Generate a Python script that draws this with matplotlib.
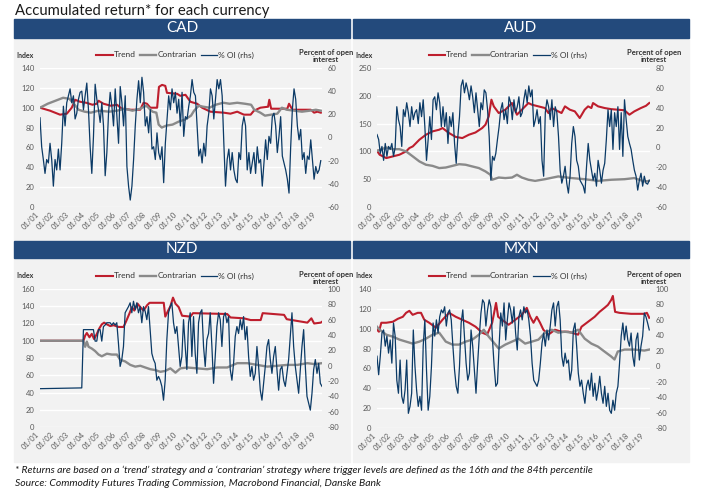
import numpy as np
import matplotlib
matplotlib.use("Agg")
import matplotlib.pyplot as plt
from matplotlib.patches import Rectangle

plt.rcParams['font.family'] = ['Lato', 'DejaVu Sans']
plt.rcParams['axes.unicode_minus'] = False

W, H = 703, 501

# ---------------- datos ----------------
tick_years = list(range(2001, 2020))
tick_labels = ["01/01", "01/02", "01/03", "01/04", "01/05", "01/06", "01/07",
               "01/08", "01/09", "01/10", "01/11", "01/12", "01/13", "01/14",
               "01/15", "01/16", "01/17", "01/18", "01/19"]

# CAD
cad_trend = [(2001.0, 100), (2001.65, 97), (2002.3, 93), (2002.74, 94), (2003.06, 100),
             (2003.28, 108), (2003.6, 106), (2004.0, 105), (2004.4, 103), (2004.69, 104),
             (2004.8, 107), (2005.12, 104), (2005.6, 102), (2006.0, 103), (2006.3, 99),
             (2006.9, 98), (2007.5, 98), (2007.72, 105), (2007.94, 104), (2008.16, 100),
             (2008.6, 100), (2008.72, 121), (2008.92, 123), (2009.13, 122), (2009.24, 115),
             (2009.9, 114), (2010.1, 112), (2010.44, 113), (2010.76, 106), (2011.2, 104),
             (2011.52, 100), (2012.06, 96), (2012.93, 95), (2013.36, 94), (2013.8, 96),
             (2014.23, 93), (2014.67, 93), (2014.88, 97), (2015.3, 100), (2015.8, 101),
             (2015.88, 108), (2016.0, 99), (2017.05, 99), (2017.16, 104), (2017.38, 98),
             (2018.57, 98), (2018.79, 95), (2019.0, 96), (2019.22, 95)]
cad_contr = [(2001.0, 100), (2001.5, 104), (2002.0, 107), (2002.5, 110), (2002.9, 109),
             (2003.2, 104), (2003.5, 98), (2003.9, 96), (2004.3, 95), (2004.8, 97),
             (2005.5, 96), (2006.0, 97), (2006.5, 99), (2007.0, 97), (2007.5, 99),
             (2007.9, 102), (2008.3, 96), (2008.55, 95), (2008.7, 83), (2008.9, 80),
             (2009.2, 82), (2009.6, 83), (2010.0, 86), (2010.4, 88), (2010.8, 92),
             (2011.0, 97), (2011.3, 102), (2011.6, 101), (2012.0, 100), (2012.4, 103),
             (2012.9, 105), (2013.3, 104), (2013.8, 105), (2014.3, 104), (2014.7, 103),
             (2014.9, 98), (2015.3, 95), (2015.6, 92), (2016.0, 93), (2016.4, 94),
             (2016.7, 100), (2017.0, 98), (2017.5, 97), (2018.0, 96), (2018.5, 97),
             (2018.9, 98), (2019.22, 97)]
cad_oi_start, cad_oi_end = 2001.0, 2019.22
cad_oi = [17, -8, -19, -31, -19, -22, -5, -19, -42, -19, -28, -10, -28, -5, 27,
          10, 30, 36, 42, 30, 36, 16, 21, 33, 39, 40, 24, 36, 47, 24, -8, -31, 1, 46, 33,
          24, 13, 30, 10, -33, -13, 21, 39, 27, 10, 42, 18, -5, 44, 30, 10, 36, -25, -42, -54,
          -42, -19, 10, 33, 49, 30, 52, 39, 10, 18, 4, 24, -10, -8, -19, 4, -13, -19, -8, -39,
          -5, 16, 36, 24, 42, 30, 39, 21, 33, 10, 39, 1, 18, 16, 27, 36, 50, 39, 36, 10,
          -16, -10, -22, -5, -16, 10, 21, 42, 36, 16, 33, 50, 42, 50, 36, -5, -42, -19, -10, -28,
          -13, -28, -36, -39, -13, -19, 10, 18, 10, -28, -13, -31, -22, -13, -31, -8, -22, -19, -42, -22,
          -2, -19, 1, -5, 18, 21, 10, -13, 1, 18, -16, -22, -28, -36, -48, -8, 24, 42, 33, 10,
          -2, 7, -19, -13, -31, -16, -19, -2, -19, -36, -25, -31, -28, -20]

# AUD
aud_trend = [(2001.0, 101), (2001.18, 94), (2001.62, 88), (2002.06, 91), (2002.5, 94),
             (2002.95, 100), (2003.17, 106), (2003.4, 109), (2003.84, 121), (2004.28, 130),
             (2004.72, 136), (2005.17, 139), (2005.39, 142), (2005.83, 133), (2006.28, 126),
             (2006.72, 124), (2007.16, 130), (2007.6, 134), (2008.05, 142), (2008.27, 148),
             (2008.49, 163), (2008.67, 193), (2008.83, 181), (2009.16, 169), (2009.6, 175),
             (2010.05, 187), (2010.38, 166), (2010.71, 175), (2011.15, 187), (2011.38, 184),
             (2011.82, 181), (2012.26, 178), (2012.49, 169), (2012.71, 178), (2013.15, 172),
             (2013.37, 169), (2013.6, 181), (2013.93, 175), (2014.26, 172), (2014.59, 160),
             (2014.92, 175), (2015.15, 181), (2015.37, 178), (2015.48, 187), (2015.82, 181),
             (2016.26, 178), (2016.7, 176), (2017.14, 175), (2017.59, 174), (2017.92, 166),
             (2018.25, 172), (2018.69, 178), (2019.03, 182), (2019.25, 187)]
aud_contr = [(2001.0, 101), (2001.62, 107), (2002.06, 104), (2002.5, 104), (2002.95, 100),
             (2003.4, 91), (2003.84, 82), (2004.28, 76), (2004.72, 74), (2005.17, 70),
             (2005.61, 71), (2006.06, 74), (2006.5, 77), (2006.94, 76), (2007.38, 73),
             (2007.83, 70), (2008.27, 64), (2008.6, 58), (2008.72, 49), (2009.16, 53),
             (2009.6, 52), (2010.05, 53), (2010.38, 58), (2010.71, 53), (2011.15, 49),
             (2011.6, 47), (2012.26, 50), (2013.15, 55), (2014.04, 52), (2014.92, 50),
             (2015.81, 47), (2016.7, 49), (2017.59, 50), (2018.25, 52), (2018.92, 46),
             (2019.25, 47)]
aud_oi_start, aud_oi_end = 2001.0, 2019.25
aud_oi = [13, 8, -6, 1, -13, 4, -9, 1, -2, 4, -9, 0, 41, 28, 21, 1, 38, 31, 45, 35,
          21, 41, 28, 35, 38, 24, 45, 31, 48, 21, -13, 8, 31, 8, 48, 51, 38, 55, 45, 21,
          41, 21, 35, 4, 31, 21, 35, 4, -16, 11, 31, 62, 68, 55, 65, 58, 48, 62, 51, 35,
          55, 38, 21, 45, 38, 58, 55, 38, 11, -33, -9, -13, -6, 8, 21, 38, 45, 28, 38, 24,
          51, 45, 28, 48, 35, 41, 51, 31, 35, 48, 58, 45, 62, 51, 58, 21, 28, 38, 24, 31,
          -13, -29, 35, 48, 41, 28, 48, 21, 41, 35, 11, -23, -36, -29, -19, -36, -46, -29, 4, 21,
          11, -13, -19, -33, -36, -39, -46, -19, 4, -13, -23, -33, -26, -39, -13, -23, -36, -23, -16, 8,
          38, 21, 38, -2, 35, 21, 41, -2, 35, -9, 48, 28, 11, 4, -2, -13, -23, -29, -43, -33,
          -26, -39, -29, -36, -37, -33]

# NZD
nzd_trend = [(2001.0, 100), (2003.82, 100), (2003.93, 106), (2004.04, 109), (2004.21, 104),
             (2004.36, 108), (2004.51, 102), (2004.69, 108), (2004.84, 114), (2005.01, 119),
             (2005.16, 121), (2005.34, 119), (2005.56, 117), (2005.77, 118), (2006.1, 116),
             (2006.42, 116), (2006.6, 123), (2006.79, 131), (2006.97, 139), (2007.12, 135),
             (2007.33, 143), (2007.51, 139), (2007.72, 135), (2007.94, 141), (2008.11, 144),
             (2009.03, 144), (2009.13, 128), (2009.29, 134), (2009.46, 140), (2009.63, 150),
             (2009.79, 143), (2010.0, 139), (2010.22, 129), (2010.76, 128), (2010.93, 132),
             (2013.15, 131), (2013.36, 127), (2014.23, 126), (2014.67, 124), (2015.32, 124),
             (2015.45, 132), (2016.84, 130), (2017.01, 125), (2018.35, 121), (2018.61, 126),
             (2018.79, 120), (2019.22, 121), (2019.3, 122)]
nzd_contr = [(2001.0, 100), (2003.82, 100), (2003.93, 93), (2004.04, 99), (2004.15, 93),
             (2004.36, 91), (2004.58, 88), (2004.8, 84), (2005.01, 82), (2005.34, 85),
             (2005.66, 84), (2005.99, 84), (2006.2, 78), (2006.53, 76), (2006.86, 72),
             (2007.18, 70), (2007.51, 71), (2007.83, 69), (2008.16, 67), (2008.48, 66),
             (2008.81, 64), (2009.13, 65), (2009.46, 68), (2009.79, 63), (2010.11, 68),
             (2010.55, 69), (2011.2, 68), (2011.85, 67), (2012.5, 69), (2013.15, 69),
             (2013.8, 74), (2014.45, 74), (2015.1, 72), (2015.75, 70), (2016.4, 71),
             (2017.05, 72), (2017.7, 72), (2018.35, 74), (2018.79, 73), (2019.3, 74)]
nzd_oi_first = (2001.0, -30)          # tramo plano antes de 2004
nzd_oi_start, nzd_oi_end = 2003.71, 2019.3
nzd_oi = [-29, 47, 47, 47, 47, 47, 47, 47, 32, 32, 47, 47, 32, 51, 53, 56, 56, 56, 53, 56,
          53, 56, 29, -1, 8, 25, 69, 73, 77, 82, 69, 84, 73, 82, 69, 77, 56, 77, 71, 60,
          77, 47, 16, 8, 3, -19, -14, -19, -27, -45, -19, 34, 69, 77, 82, 56, 42, 51, 25, -1,
          12, 60, 25, -5, 56, 69, 12, 64, 16, -10, 56, 69, 73, 25, -1, 34, 42, 69, 25, -23,
          12, 51, 69, 60, 25, 64, 69, 56, 64, -5, -19, 3, 38, 51, 42, 60, 47, 64, 34, 51,
          12, -14, -1, -19, -10, 25, -1, -32, -45, -23, -1, 25, 34, 8, -10, 12, 25, -5, -32, -5,
          -1, -19, -27, -10, 8, 38, 69, 25, -1, -19, -36, -5, 25, 47, -1, -40, -49, -58, -36, -5,
          8, -10, 3, -23, -27]

# MXN
mxn_trend = [(2001.0, 99), (2001.13, 97), (2001.29, 106), (2001.62, 106), (2002.06, 107),
             (2002.4, 110), (2002.73, 112), (2002.95, 116), (2003.17, 118), (2003.39, 114),
             (2003.73, 116), (2003.95, 116), (2004.17, 109), (2004.5, 106), (2004.95, 101),
             (2005.39, 109), (2005.83, 116), (2006.28, 112), (2006.72, 109), (2007.16, 106),
             (2007.61, 102), (2008.05, 96), (2008.38, 94), (2008.72, 106), (2008.98, 126),
             (2009.12, 112), (2009.38, 109), (2009.82, 104), (2010.27, 109), (2010.71, 114),
             (2011.04, 121), (2011.27, 112), (2011.49, 106), (2011.71, 112), (2011.93, 106),
             (2012.15, 99), (2012.49, 94), (2012.93, 99), (2013.37, 97), (2013.82, 97),
             (2014.48, 94), (2014.71, 102), (2015.15, 107), (2015.59, 112), (2015.92, 117),
             (2016.25, 121), (2016.48, 124), (2016.7, 129), (2016.81, 133), (2016.96, 117),
             (2017.25, 116), (2018.03, 115), (2018.92, 115), (2019.09, 116), (2019.25, 111)]
mxn_contr = [(2001.0, 102), (2001.18, 99), (2001.62, 94), (2002.06, 92), (2002.51, 89),
             (2002.95, 87), (2003.39, 85), (2003.84, 87), (2004.28, 90), (2004.73, 94),
             (2005.17, 96), (2005.61, 87), (2006.06, 84), (2006.5, 84), (2006.94, 87),
             (2007.39, 89), (2007.83, 94), (2008.16, 99), (2008.49, 92), (2008.94, 84),
             (2009.16, 80), (2009.6, 84), (2010.05, 87), (2010.49, 90), (2010.93, 85),
             (2011.38, 87), (2011.82, 89), (2012.26, 96), (2012.71, 99), (2013.15, 96),
             (2013.59, 97), (2014.04, 96), (2014.48, 99), (2014.92, 90), (2015.37, 85),
             (2015.81, 82), (2016.25, 77), (2016.7, 72), (2016.92, 69), (2017.14, 77),
             (2017.59, 79), (2018.25, 79), (2018.92, 78), (2019.25, 79)]
mxn_oi_start, mxn_oi_end = 2001.0, 2019.25
mxn_oi = [13, -11, 13, 43, 47, 26, 39, 17, 34, 4, 56, 39, -18, -35, 8, -39, -48, -31, 8, -61,
          -52, -35, 47, 0, -31, -52, -39, -57, 26, 60, -5, -57, -39, 0, 56, 39, 60, 43, 64, 73,
          69, 77, 52, 69, 73, 60, 26, -5, -26, -35, 0, 56, 73, 39, 4, -18, -9, 47, 26, -5,
          -35, 4, 39, 69, 86, 82, 52, 73, 86, 77, 34, 0, -26, -22, 26, 69, 52, 82, 34, 60,
          82, 73, 56, 77, 43, 21, 64, 73, 60, 77, 69, 73, 60, 39, 4, -18, -22, -26, -18, 4,
          30, 43, 26, 47, 34, 52, 73, 82, 52, 77, 84, 60, 13, 0, 17, 4, 8, -18, -5, 47,
          56, 26, -9, -26, -18, -35, -48, -26, -18, -31, -9, -39, -22, -44, -31, -13, -35, -48, -26, -52,
          -35, -57, -61, -44, -57, -35, -26, 4, 39, 56, 34, 52, 34, 26, 43, 13, 0, 34, 43, 8,
          26, 39, 69, 64, 56, 47]

# ---------------- estilo ----------------
RED = '#be1e2d'
GREY = '#8a8a8a'
NAVY = '#0b3a66'
HEAD = '#234a7c'
PANEL = '#f2f2f2'
TXT = '#595959'


def box(x0, y0, x1, y1):
    return [x0 / W, 1 - y1 / H, (x1 - x0) / W, (y1 - y0) / H]


fig = plt.figure(figsize=(W / 100, H / 100), dpi=100)


def panel(name, frame, ax_px, trend, contr, oi_t, oi_v, lim_l, step_l, lim_r, step_r):
    x0, x1, hy0, hy1, by1 = frame
    fig.add_artist(Rectangle((x0 / W, 1 - by1 / H), (x1 - x0) / W, (by1 - hy1) / H,
                             transform=fig.transFigure, color=PANEL, zorder=-2))
    fig.add_artist(Rectangle((x0 / W, 1 - hy1 / H), (x1 - x0) / W, (hy1 - hy0) / H,
                             transform=fig.transFigure, color=HEAD, zorder=-1))
    fig.text((x0 + x1) / 2 / W, 1 - (hy0 + hy1) / 2 / H, name, color='white',
             fontsize=11, ha='center', va='center')

    ax = fig.add_axes(box(*ax_px))
    ax.set_facecolor('none')
    t, v = np.array(trend, dtype=float).T
    l1, = ax.plot(t, v, color=RED, lw=1.5)
    t, v = np.array(contr, dtype=float).T
    l2, = ax.plot(t, v, color=GREY, lw=1.7)
    ax.set_ylim(*lim_l)
    ax.set_yticks(np.arange(lim_l[0], lim_l[1] + 1, step_l))
    ax.yaxis.grid(True, color='white', lw=1.0)
    ax.set_axisbelow(True)
    ax.set_xlim(2001.0, 2019.3)
    ax.set_xticks(tick_years)
    ax.set_xticklabels(tick_labels, rotation=45, ha='right')

    ax2 = ax.twinx()
    l3, = ax2.plot(oi_t, oi_v, color=NAVY, lw=0.9)
    ax2.set_ylim(*lim_r)
    ax2.set_yticks(np.arange(lim_r[0], lim_r[1] + 1, step_r))

    for a in (ax, ax2):
        for s in a.spines.values():
            s.set_visible(False)
        a.tick_params(length=0, labelsize=5.5, colors=TXT, pad=4)
    ax.tick_params(axis='x', pad=3)

    ly = ax_px[1] - 13
    fig.text((x0 + 2) / W, 1 - ly / H, 'Index', fontsize=5, fontweight='bold',
             color='#333333', ha='left', va='center')
    fig.text((ax_px[2] + 4) / W, 1 - (ly + 1.5) / H, 'Percent of open\ninterest',
             fontsize=5.5, fontweight='bold', color='#333333', ha='center', va='center',
             linespacing=1.0)
    cx = (ax_px[0] + ax_px[2]) / 2 - 6
    fig.legend([l1, l2, l3], ['Trend', 'Contrarian', '% OI (rhs)'], loc='center',
               bbox_to_anchor=(cx / W, 1 - ly / H), ncol=3, frameon=False,
               fontsize=6, handlelength=2.0, handletextpad=0.1, columnspacing=0.5,
               borderpad=0, borderaxespad=0, labelcolor='#333333')


cad_t = np.linspace(cad_oi_start, cad_oi_end, len(cad_oi))
aud_t = np.linspace(aud_oi_start, aud_oi_end, len(aud_oi))
nzd_t = np.concatenate([[nzd_oi_first[0]], np.linspace(nzd_oi_start, nzd_oi_end, len(nzd_oi))])
nzd_v = [nzd_oi_first[1]] + nzd_oi
mxn_t = np.linspace(mxn_oi_start, mxn_oi_end, len(mxn_oi))

panel('CAD', (14, 350, 19, 38, 240), (40, 68, 322, 207),
      cad_trend, cad_contr, cad_t, cad_oi, (0, 140), 20, (-60, 60), 20)
panel('AUD', (353, 689, 19, 38, 240), (377, 68, 650, 207),
      aud_trend, aud_contr, aud_t, aud_oi, (0, 250), 50, (-60, 80), 20)
panel('NZD', (14, 350, 241, 258, 462), (40, 289, 322, 427),
      nzd_trend, nzd_contr, nzd_t, nzd_v, (0, 160), 20, (-80, 100), 20)
panel('MXN', (353, 689, 241, 258, 462), (377, 289, 650, 428),
      mxn_trend, mxn_contr, mxn_t, mxn_oi, (0, 140), 20, (-80, 100), 20)

fig.text(15 / W, 1 - 11 / H, 'Accumulated return* for each currency', fontsize=10.7,
         ha='left', va='center', color='#1a1a1a')
fig.text(15 / W, 1 - 470 / H,
         '* Returns are based on a \u2018trend\u2019 strategy and a \u2018contrarian\u2019 strategy '
         'where trigger levels are defined as the 16th and the 84th percentile',
         fontsize=7.5, style='italic', ha='left', va='center', color='#1a1a1a')
fig.text(15 / W, 1 - 483 / H,
         'Source: Commodity Futures Trading Commission, Macrobond Financial, Danske Bank',
         fontsize=7.5, style='italic', ha='left', va='center', color='#1a1a1a')

fig.savefig('out.png', dpi=100)
